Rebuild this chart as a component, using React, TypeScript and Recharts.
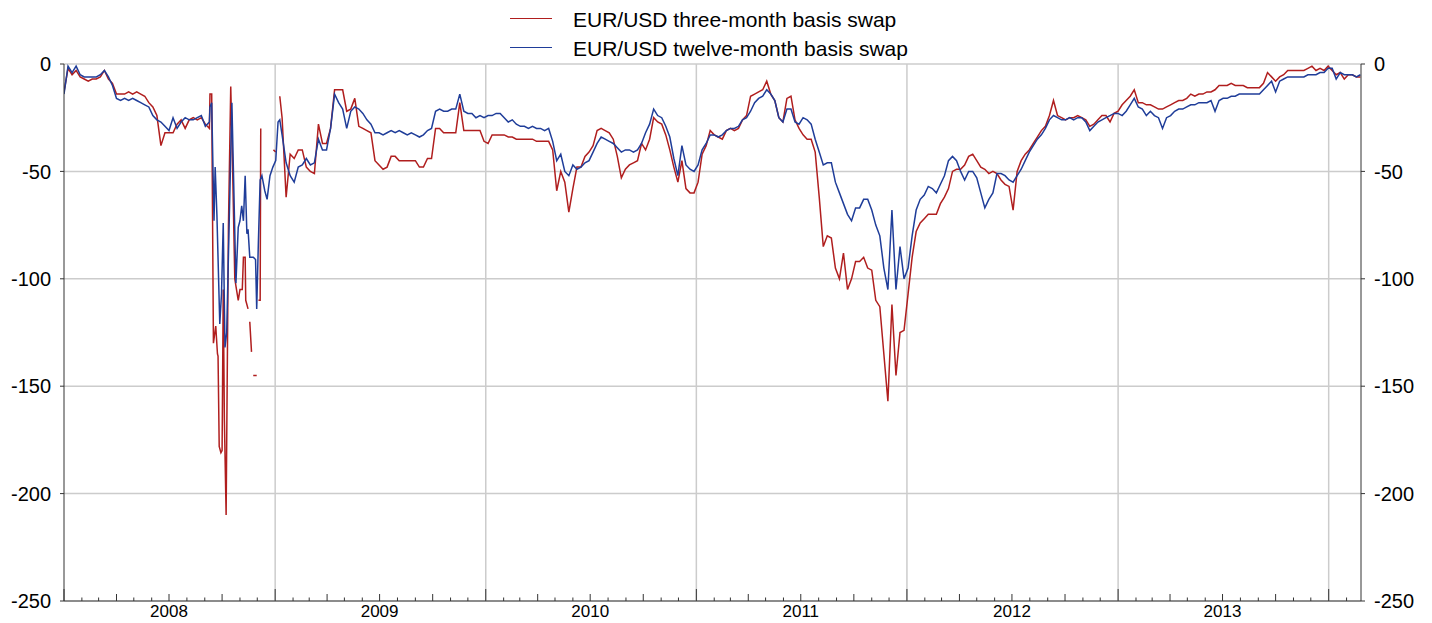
import { LineChart, Line, XAxis, YAxis, CartesianGrid } from 'recharts';

const DAY_MS = 86400000;
const ORIGIN = Date.UTC(2008, 0, 1);
const LAST_DAY = 2248; // late Feb 2014, days counted from 1 Jan 2008

const yTicks = [-250, -200, -150, -100, -50, 0];
const gridYears = [2009, 2010, 2011, 2012, 2013, 2014];

// weekly readings, Jan - early Sep 2008 (day 0, 7, 14 ...)
const early3m = [
  -13, -2, -5, -3, -6, -7, -8, -7, -7, -6,
  -3, -7, -9, -14, -14, -14, -13, -14, -13, -14,
  -15, -18, -20, -24, -38, -32, -32, -32, -28, -26,
  -30, -26, -25, -26, -25, -28, -30,
];
const early12m = [
  -14, -1, -4, -1, -5, -6, -6, -6, -6, -5,
  -3, -6, -10, -16, -17, -16, -17, -16, -17, -18,
  -19, -20, -24, -26, -27, -29, -31, -25, -30, -27,
  -25, -26, -26, -25, -24, -29, -27,
];

// autumn 2008, irregular dates (null = no fixing)
const crisisDays3m = [
  253, 256, 259, 263, 266, 267, 269, 272, 274, 276,
  278, 281, 285, 289, 292, 296, 299, 302, 305, 309,
  311, 314, 315, 319, 321, 322, 325, 326, 328, 334,
  336, 337, 340, 341, 343, 363, 367, 369, 374,
];
const crisis3m = [
  -14, -14, -130, -122, -135, -136, -178, -181, -180, -105,
  -166, -210, -76, -10.5, -45, -100, -105, -110, -105, -105,
  -90, -90, -110, -114, null, -120, -134, null, -145, -145,
  null, -110, -110, -30, null, -40, -41, null, -15,
];
const crisisDays12m = [
  253, 256, 260, 262, 265, 270, 273, 276, 279, 282,
  291, 298, 302, 305, 308, 311, 314, 317, 319, 322,
  328, 332, 334, 337, 340, 343, 348, 352, 357, 362,
  367, 371, 374,
];
const crisis12m = [
  -20, -18, -73, -48, -70, -121, -107, -74, -132, -125,
  -18, -102, -76, -73, -66, -73, -52, -79, -77, -90,
  -90, -91, -114, -82, -54, -52, -59, -63, -52, -48,
  -45, -27, -26,
];

// weekly readings from day 378 (mid Jan 2009) on
const lateStartDay = 378;
const y2009_3m = [
  -25, -62, -42, -44, -40, -40, -48, -50, -51, -28,
  -37, -37, -30, -12, -12, -12, -22, -21, -16, -29,
  -30, -31, -32, -45, -47, -49, -48, -43, -43, -45,
  -45, -45, -45, -45, -48, -48, -44, -44, -30, -30,
  -32, -32, -32, -32, -18, -31, -31, -31, -31, -31,
  -36,
];
const y2009_12m = [
  -33, -46, -52, -55, -48, -47, -44, -47, -46, -35,
  -40, -40, -30, -14, -18, -21, -30, -22, -20, -21,
  -23, -26, -28, -32, -32, -33, -32, -31, -32, -31,
  -32, -33, -32, -33, -34, -33, -31, -30, -22, -21,
  -22, -22, -21, -21, -14, -22, -23, -23, -25, -24,
  -25,
];
const y2010_3m = [
  -37, -33, -33, -33, -33, -34, -34, -35, -35, -35,
  -35, -35, -36, -36, -36, -36, -40, -59, -50, -55,
  -69, -58, -48, -48, -43, -41, -38, -31, -30, -31,
  -32, -35, -43, -53, -49, -47, -46, -45, -37, -40,
  -35, -25, -27, -28, -33, -40, -48, -55, -45, -58,
  -60, -60,
];
const y2010_12m = [
  -24, -24, -23, -23, -25, -27, -26, -28, -29, -29,
  -30, -29, -30, -30, -31, -30, -36, -45, -42, -50,
  -52, -47, -49, -48, -46, -45, -41, -37, -34, -35,
  -36, -37, -39, -41, -40, -40, -41, -40, -37, -32,
  -28, -21, -24, -25, -29, -34, -44, -52, -38, -47,
  -49, -50,
];
const y2011_3m = [
  -55, -42, -38, -31, -33, -34, -35, -31, -30, -31,
  -30, -26, -24, -15, -14, -13, -12, -8, -14, -17,
  -25, -27, -16, -15, -26, -30, -33, -35, -35, -41,
  -62, -85, -80, -81, -95, -100, -88, -105, -100, -92,
  -92, -90, -95, -96, -110, -113, -135, -157, -112, -145,
  -125, -124,
];
const y2011_12m = [
  -47, -40, -37, -33, -33, -34, -33, -31, -30, -30,
  -29, -26, -25, -22, -18, -16, -15, -12, -14, -17,
  -25, -27, -21, -21, -27, -28, -25, -26, -28, -35,
  -41, -47, -46, -46, -55, -60, -65, -70, -73, -67,
  -67, -63, -63, -68, -75, -80, -95, -105, -68, -105,
  -85, -100,
];
const y2012_3m = [
  -107, -90, -78, -74, -72, -70, -70, -70, -65, -62,
  -58, -50, -49, -49, -47, -43, -42, -45, -48, -49,
  -51, -50, -51, -54, -56, -57, -68, -50, -45, -42,
  -40, -37, -34, -31, -29, -24, -17, -24, -25, -26,
  -25, -25, -24, -25, -26, -29, -28, -26, -24, -24,
  -27, -23,
];
const y2012_12m = [
  -95, -80, -68, -63, -61, -57, -58, -60, -56, -52,
  -45, -43, -45, -50, -54, -50, -50, -53, -60, -67,
  -63, -60, -51, -51, -52, -54, -55, -52, -49, -45,
  -41, -38, -35, -33, -30, -26, -24, -25, -26, -26,
  -25, -26, -25, -25, -27, -31, -29, -27, -26, -25,
  -24, -23,
];
const y2013_3m = [
  -22, -19, -17, -15, -12, -18, -18, -19, -19, -20,
  -21, -21, -20, -19, -18, -17, -17, -16, -14, -15,
  -14, -14, -13, -13, -12, -10, -10, -10, -9, -10,
  -10, -10, -11, -11, -11, -11, -9, -4, -6, -8,
  -6, -5, -3, -3, -3, -3, -3, -2, -1, -3,
  -2, -3, -1, -3, -5, -4, -7, -5, -5, -6,
  -6,
];
const y2013_12m = [
  -23, -24, -22, -19, -16, -20, -21, -24, -22, -24,
  -25, -30, -25, -24, -22, -21, -21, -20, -19, -19,
  -18, -18, -18, -17, -22, -17, -16, -16, -15, -15,
  -14, -14, -14, -14, -14, -14, -12, -10, -8, -13,
  -8, -7, -6, -6, -6, -6, -6, -5, -5, -5,
  -4, -4, -2, -2, -7, -4, -5, -5, -5, -6,
  -5,
];

const RED = '#b01e1e';
const BLUE = '#1f3d99';

const dayOf = (y: number, m: number) => (Date.UTC(y, m, 1) - ORIGIN) / DAY_MS;

const monthTicks: number[] = [];
for (let y = 2008; y <= 2014; y++) {
  for (let m = 0; m < 12; m++) {
    const d = dayOf(y, m);
    if (d <= LAST_DAY) monthTicks.push(d);
  }
}
const yearLines = gridYears.map((y) => dayOf(y, 0));

type Pt = { day: number; v: number | null };

const build = (early: number[], cDays: number[], crisis: (number | null)[], late: number[][]): Pt[] => {
  const pts: Pt[] = early.map((v, i) => ({ day: i * 7, v }));
  cDays.forEach((d, i) => pts.push({ day: d, v: crisis[i] }));
  late.flat().forEach((v, i) => pts.push({ day: lateStartDay + i * 7, v }));
  return pts;
};

const data3m = build(early3m, crisisDays3m, crisis3m, [y2009_3m, y2010_3m, y2011_3m, y2012_3m, y2013_3m]);
const data12m = build(early12m, crisisDays12m, crisis12m, [y2009_12m, y2010_12m, y2011_12m, y2012_12m, y2013_12m]);

// monthly ticks drawn upward inside the plot, year label under July
const MonthTick = (props: any) => {
  const { x, y, payload } = props;
  const date = new Date(ORIGIN + payload.value * DAY_MS);
  const m = date.getUTCMonth();
  const len = m === 0 ? 12 : m % 3 === 0 ? 7 : 3.5;
  return (
    <g>
      <line x1={x} x2={x} y1={y} y2={y - len} stroke="#333" strokeWidth={1} />
      {m === 6 && (
        <text x={x} y={y + 16} textAnchor="middle" fontSize={17} fill="#000">
          {date.getUTCFullYear()}
        </text>
      )}
    </g>
  );
};

const legendRows = [
  { label: 'EUR/USD three-month basis swap', color: RED, top: 19 },
  { label: 'EUR/USD twelve-month basis swap', color: BLUE, top: 47.5 },
];

export default function App() {
  return (
    <div
      style={{
        position: 'absolute',
        left: 0,
        top: 0,
        width: 1432,
        height: 623,
        background: '#fff',
        fontFamily: '"Liberation Sans", Arial, sans-serif',
      }}
    >
      {legendRows.map((r) => (
        <div key={r.label}>
          <div
            style={{ position: 'absolute', left: 510, top: r.top - 0.75, width: 42, height: 0, borderTop: `1.5px solid ${r.color}` }}
          />
          <div style={{ position: 'absolute', left: 573, top: r.top - 10, fontSize: 21, lineHeight: '21px', color: '#000', whiteSpace: 'nowrap' }}>
            {r.label}
          </div>
        </div>
      ))}
      <LineChart width={1432} height={623} margin={{ top: 64, right: 0, bottom: 0, left: 0 }}>
        <CartesianGrid
          xAxisId="main"
          yAxisId="left"
          stroke="#cccccc"
          strokeWidth={1.5}
          verticalValues={yearLines}
        />
        <XAxis
          xAxisId="main"
          dataKey="day"
          type="number"
          domain={[0, LAST_DAY]}
          ticks={monthTicks}
          interval={0}
          tick={<MonthTick />}
          tickLine={false}
          tickSize={0}
          tickMargin={0}
          height={22}
          axisLine={{ stroke: '#8c8c8c', strokeWidth: 2 }}
          allowDataOverflow
        />
        <YAxis
          yAxisId="left"
          domain={[-250, 0]}
          ticks={yTicks}
          width={64}
          tick={{ fontSize: 20, fill: '#000' }}
          tickSize={4}
          tickMargin={9}
          axisLine={{ stroke: '#333' }}
          tickLine={{ stroke: '#333' }}
          allowDataOverflow
        />
        <YAxis
          yAxisId="right"
          orientation="right"
          domain={[-250, 0]}
          ticks={yTicks}
          width={71}
          tick={{ fontSize: 20, fill: '#000' }}
          tickSize={4}
          tickMargin={9}
          axisLine={{ stroke: '#333' }}
          tickLine={{ stroke: '#333' }}
          allowDataOverflow
        />
        <Line
          xAxisId="main"
          yAxisId="left"
          data={data3m}
          dataKey="v"
          stroke={RED}
          strokeWidth={1.5}
          dot={false}
          connectNulls={false}
          isAnimationActive={false}
        />
        <Line
          xAxisId="main"
          yAxisId="left"
          data={data12m}
          dataKey="v"
          stroke={BLUE}
          strokeWidth={1.5}
          dot={false}
          isAnimationActive={false}
        />
      </LineChart>
    </div>
  );
}
